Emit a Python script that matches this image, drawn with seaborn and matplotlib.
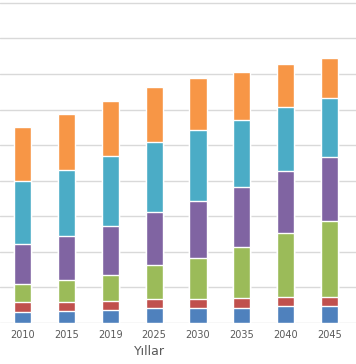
import pandas as pd
import numpy as np
import matplotlib.pyplot as plt
import seaborn as sns

years = ['2010', '2015', '2019', '2025', '2030', '2035', '2040', '2045']
series_names = ['S1', 'S2', 'S3', 'S4', 'S5', 'S6']
s1 = [31, 34, 37, 41, 43, 43, 47, 47]
s2 = [28, 25, 26, 27, 25, 28, 27, 27]
s3 = [51, 61, 71, 94, 115, 142, 179, 213]
s4 = [113, 124, 139, 150, 161, 169, 175, 180]
s5 = [175, 185, 196, 197, 198, 190, 178, 165]
s6 = [152, 158, 155, 154, 148, 135, 122, 112]
colors = ['#4F81BD', '#C0504D', '#9BBB59', '#8064A2', '#4BACC6', '#F79646']

vals = np.array([s1, s2, s3, s4, s5, s6])
cum = vals.cumsum(axis=0)

sns.set_style('white')
plt.rcParams['font.family'] = ['DejaVu Sans']

fig = plt.figure(figsize=(3.56, 3.64), dpi=100)
ax = fig.add_axes([0, 41/364, 1, 323/364])

# draw totals first, then smaller cumulative sums on top
for i in range(len(series_names) - 1, -1, -1):
    df = pd.DataFrame({'Yil': years, 'Deger': cum[i]})
    sns.barplot(data=df, x='Yil', y='Deger', color=colors[i], width=0.39,
                saturation=1, ax=ax, zorder=3)

ax.set_xlim(-0.51, 7.6)
ax.set_ylim(0, 908)
ax.set_yticks(np.arange(0, 901, 100))
ax.set_yticklabels([])
ax.yaxis.grid(True, color='#D9D9D9', linewidth=1, zorder=0)
ax.set_axisbelow(True)
for sp in ax.spines.values():
    sp.set_visible(False)
ax.tick_params(axis='both', length=0)
ax.tick_params(axis='x', labelsize=7, labelcolor='#595959', pad=5)
ax.set_ylabel('')
ax.set_xlabel('Yıllar', fontsize=9, color='#595959')
ax.xaxis.set_label_coords(0.42, -0.068)

plt.savefig('out.png', dpi=100)
